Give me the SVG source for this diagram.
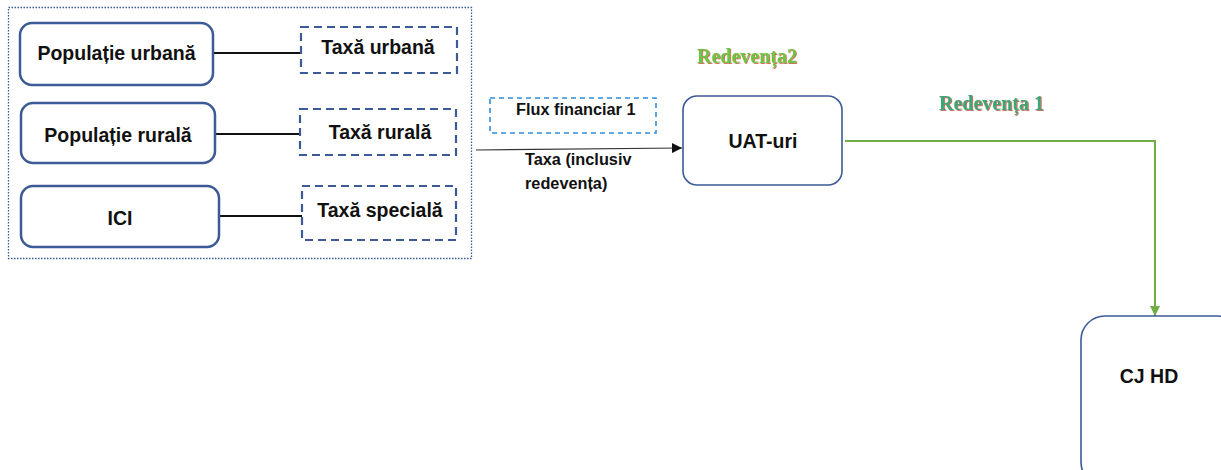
<svg xmlns="http://www.w3.org/2000/svg" width="1221" height="470" viewBox="0 0 1221 470">
<defs>
<style>
.node{fill:#fff;stroke:#3c5a96;stroke-width:2.5}
.dash{fill:#fff;stroke:#3c5a96;stroke-width:2.2;stroke-dasharray:8 5}
.lbl{font-family:"Liberation Sans",Arial,sans-serif;font-weight:bold;font-size:19.5px;fill:#111;text-anchor:middle}
.sm{font-family:"Liberation Sans",Arial,sans-serif;font-weight:bold;font-size:16.3px;fill:#111}
.red{font-family:"Liberation Serif","Times New Roman",serif;font-weight:bold;font-size:20px}
.blk{stroke:#111;stroke-width:2;fill:none}
</style>
<filter id="sh" x="-10%" y="-30%" width="120%" height="160%">
<feDropShadow dx="0.8" dy="0.8" stdDeviation="0.3" flood-color="#c0392b" flood-opacity="0.9"/>
</filter>
<marker id="ab" viewBox="0 0 10 10" refX="10" refY="5" markerWidth="10" markerHeight="10" markerUnits="userSpaceOnUse" orient="auto">
<path d="M0,0 L10,5 L0,10 Z" fill="#111"/>
</marker>
<marker id="ag" viewBox="0 0 10 10" refX="10" refY="5" markerWidth="10" markerHeight="10" markerUnits="userSpaceOnUse" orient="auto">
<path d="M0,0 L10,5 L0,10 Z" fill="#70ad47"/>
</marker>
</defs>
<rect width="1221" height="470" fill="#fff"/>
<g id="group-box">
<rect x="8.5" y="7.5" width="463" height="251" fill="none" stroke="#3c5a96" stroke-width="1.3" stroke-dasharray="1.5 1.5"/>
</g>
<g id="connectors">
<line class="blk" x1="213" y1="53" x2="301" y2="53"/>
<line class="blk" x1="215" y1="134" x2="300" y2="134"/>
<line class="blk" x1="219" y1="216" x2="305" y2="216"/>
<line x1="476" y1="150" x2="682" y2="148" stroke="#333" stroke-width="1.2" marker-end="url(#ab)"/>
<polyline points="845,141 1155,141 1155,316" fill="none" stroke="#70ad47" stroke-width="2" marker-end="url(#ag)"/>
</g>
<g id="pop-urbana">
<rect class="node" x="20" y="23" width="193" height="62" rx="12"/>
<text class="lbl" x="116.5" y="60">Populație urbană</text>
</g>
<g id="pop-rurala">
<rect class="node" x="21" y="103" width="194" height="60" rx="12"/>
<text class="lbl" x="118" y="142">Populație rurală</text>
</g>
<g id="ici">
<rect class="node" x="21" y="186" width="198" height="61" rx="12"/>
<text class="lbl" x="120" y="225">ICI</text>
</g>
<g id="taxa-urbana">
<rect class="dash" x="301" y="27" width="156" height="46"/>
<text class="lbl" x="378" y="54">Taxă urbană</text>
</g>
<g id="taxa-rurala">
<rect class="dash" x="300" y="109" width="156" height="46"/>
<text class="lbl" x="380" y="139">Taxă rurală</text>
</g>
<g id="taxa-speciala">
<rect class="dash" x="302" y="186" width="154" height="54"/>
<text class="lbl" x="380" y="217">Taxă specială</text>
</g>
<g id="flux">
<rect x="490" y="98" width="166" height="35" fill="#fff" stroke="#2f8ed8" stroke-width="1.6" stroke-dasharray="5 4"/>
<text class="sm" x="516" y="115">Flux financiar 1</text>
</g>
<g id="taxa-label">
<text class="sm" x="525" y="165">Taxa (inclusiv</text>
<text class="sm" x="525" y="189">redevența)</text>
</g>
<g id="uat">
<rect x="683" y="96" width="159" height="89" rx="14" fill="#fff" stroke="#3c5a96" stroke-width="1.6"/>
<text class="lbl" x="763" y="148">UAT-uri</text>
</g>
<g id="redeventa2">
<text class="red" x="697" y="63" fill="#6cc644" filter="url(#sh)">Redevența2</text>
</g>
<g id="redeventa1">
<text class="red" x="939" y="110" fill="#3aa776" filter="url(#sh)">Redevența 1</text>
</g>
<g id="cjhd">
<rect x="1081" y="316" width="160" height="170" rx="24" fill="#fff" stroke="#3c5a96" stroke-width="1.6"/>
<text class="lbl" x="1149" y="383">CJ HD</text>
</g>
</svg>
